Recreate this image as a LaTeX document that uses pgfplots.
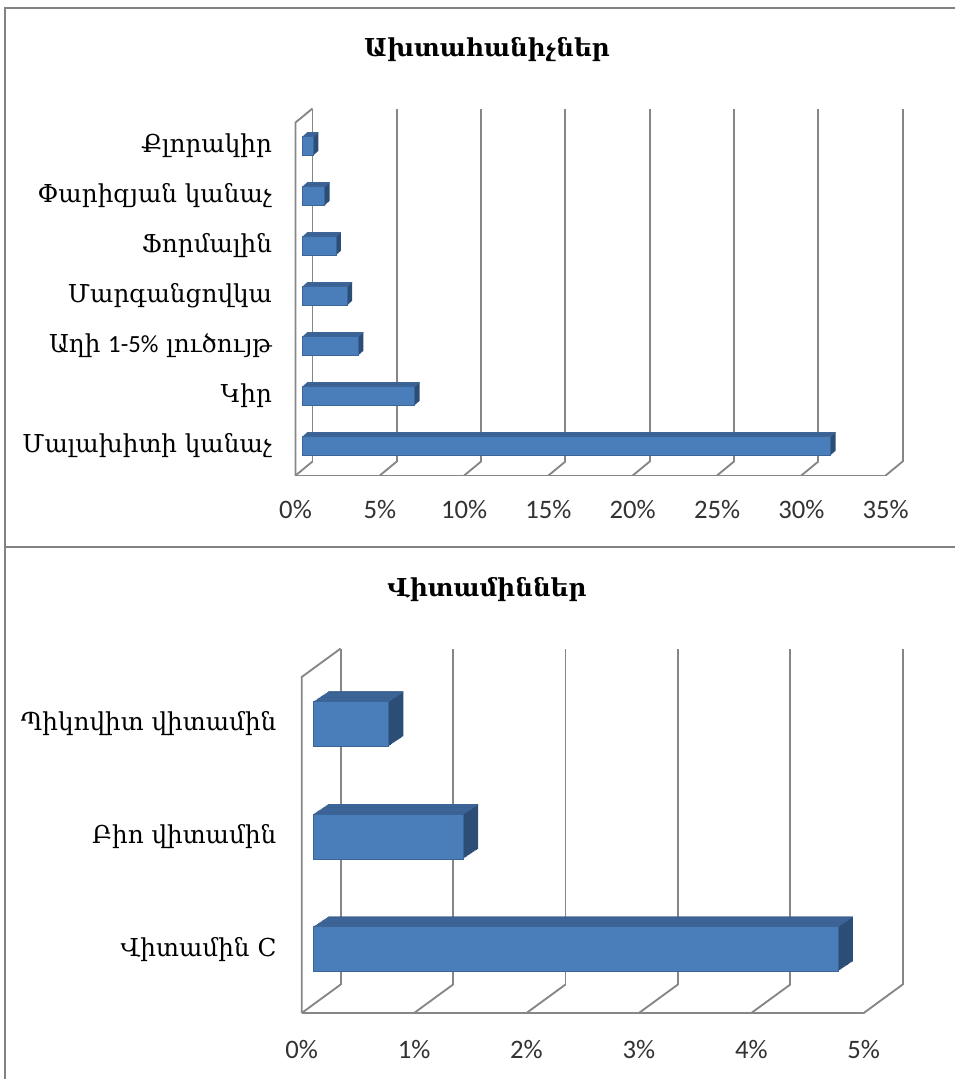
\documentclass[border=0pt]{standalone}
\usepackage{pgfplots}
\pgfplotsset{compat=1.18}
\usepackage{pgfplotstable}
\usepackage{fontspec}
\setmainfont{Carlito}
\newfontfamily\armfont{DejaVu Serif}
\newfontfamily\latfont{Carlito}

\definecolor{barfront}{RGB}{74,126,187}
\definecolor{bartop}{RGB}{60,100,150}
\definecolor{barside}{RGB}{44,77,118}
\definecolor{wall}{RGB}{134,134,134}
\definecolor{framegray}{RGB}{130,130,130}
\definecolor{ticktext}{RGB}{50,50,50}

% Disinfectants: share of respondents, %
\pgfplotstableread{
idx value
0 31.333
1 6.667
2 3.333
3 2.667
4 2.000
5 1.333
6 0.667
}\disinf

% Vitamins: share of respondents, %
\pgfplotstableread{
idx value
0 4.667
1 1.333
2 0.667
}\vitamins

\tikzset{wallline/.style={draw=wall, line width=1.4pt}}

\begin{document}
\begin{tikzpicture}
\path[use as bounding box] (0pt,0pt) rectangle (716.25pt,-809.25pt);
\draw[framegray, line width=2.2pt] (3.75pt,-809.25pt) -- (3.75pt,-6pt) -- (716.25pt,-6pt);
\draw[framegray, line width=2.2pt] (3.75pt,-410.25pt) -- (716.25pt,-410.25pt);

\node[font=\armfont\bfseries\fontsize{18.5}{21}\selectfont] at (365.25pt,-37.5pt) {Ախտահանիչներ};
\node[font=\armfont\bfseries\fontsize{18.5}{21}\selectfont] at (365.25pt,-442.5pt) {Վիտամիններ};

% ---------- disinfectants ----------
\begin{axis}[
  at={(226.65pt,-352.5pt)}, anchor=south west,
  scale only axis, width=442.6pt, height=264.75pt,
  xmin=0, xmax=35, ymin=-0.48, ymax=6.58,
  clip=false,
  axis line style={draw=none},
  major tick length=0pt,
  xtick={0,5,...,35},
  xticklabels={0\%,5\%,10\%,15\%,20\%,25\%,30\%,35\%},
  ytick={0,...,6},
  yticklabels={Մալախիտի կանաչ,Կիր,Աղի {\latfont 1-5\%} լուծույթ,Մարգանցովկա,Ֆորմալին,Փարիզյան կանաչ,Քլորակիր},
  xticklabel style={font=\latfont\fontsize{20}{23}\selectfont, text=ticktext, anchor=center, xshift=-5pt, yshift=-30pt},
  yticklabel style={font=\armfont\fontsize{18.5}{21}\selectfont, text=black, anchor=east, inner sep=0pt, xshift=-22.5pt},
]
% back wall and floor
\pgfplotsinvokeforeach{0,5,...,35}{
  \draw[wallline] ([shift={(7.725pt,6.375pt)}]axis cs:#1,-0.48) -- ([shift={(7.725pt,6.375pt)}]axis cs:#1,6.58);
  \draw[wallline] ([shift={(-5.025pt,-4.125pt)}]axis cs:#1,-0.48) -- ([shift={(7.725pt,6.375pt)}]axis cs:#1,-0.48);
}
\draw[wallline] ([shift={(-5.025pt,-4.125pt)}]axis cs:0,-0.48) -- ([shift={(-5.025pt,-4.125pt)}]axis cs:0,6.58) -- ([shift={(7.725pt,6.375pt)}]axis cs:0,6.58);
\draw[wallline] ([shift={(-5.025pt,-4.125pt)}]axis cs:0,-0.48) -- ([shift={(-5.025pt,-4.125pt)}]axis cs:35,-0.48);
% bar depth: side faces, then top faces, then front faces
\pgfplotsinvokeforeach{1,...,6}{
  \addplot[xbar, bar width=14.25pt, bar shift=0pt, fill=barside, draw=none, xshift=#1*0.625pt, yshift=#1*0.5625pt] table[x=value,y=idx]{\disinf};
}
\pgfplotsinvokeforeach{1,...,6}{
  \addplot[xbar, bar width=0.8pt, bar shift=6.725pt, fill=bartop, draw=none, xshift=#1*0.625pt, yshift=#1*0.5625pt] table[x=value,y=idx]{\disinf};
}
\addplot[xbar, bar width=14.25pt, bar shift=0pt, fill=barfront, draw=barfront!80!black, line width=0.4pt] table[x=value,y=idx]{\disinf};
\end{axis}

% ---------- vitamins ----------
\begin{axis}[
  at={(234.975pt,-753.375pt)}, anchor=south west,
  scale only axis, width=421.5pt, height=252pt,
  xmin=0, xmax=5, ymin=-0.493, ymax=2.493,
  clip=false,
  axis line style={draw=none},
  major tick length=0pt,
  xtick={0,1,...,5},
  xticklabels={0\%,1\%,2\%,3\%,4\%,5\%},
  ytick={0,1,2},
  yticklabels={Վիտամին C,Բիո վիտամին,Պիկովիտ վիտամին},
  xticklabel style={font=\latfont\fontsize{20}{23}\selectfont, text=ticktext, anchor=center, xshift=-8.7pt, yshift=-34.1pt},
  yticklabel style={font=\armfont\fontsize{18.5}{21}\selectfont, text=black, anchor=east, inner sep=0pt, xshift=-27.5pt},
]
\pgfplotsinvokeforeach{0,...,5}{
  \draw[wallline] ([shift={(20.55pt,15pt)}]axis cs:#1,-0.493) -- ([shift={(20.55pt,15pt)}]axis cs:#1,2.493);
  \draw[wallline] ([shift={(-8.7pt,-6.375pt)}]axis cs:#1,-0.493) -- ([shift={(20.55pt,15pt)}]axis cs:#1,-0.493);
}
\draw[wallline] ([shift={(-8.7pt,-6.375pt)}]axis cs:0,-0.493) -- ([shift={(-8.7pt,-6.375pt)}]axis cs:0,2.493) -- ([shift={(20.55pt,15pt)}]axis cs:0,2.493);
\draw[wallline] ([shift={(-8.7pt,-6.375pt)}]axis cs:0,-0.493) -- ([shift={(-8.7pt,-6.375pt)}]axis cs:5,-0.493);
\pgfplotsinvokeforeach{1,...,12}{
  \addplot[xbar, bar width=33.75pt, bar shift=0pt, fill=barside, draw=none, xshift=#1*0.9375pt, yshift=#1*0.625pt] table[x=value,y=idx]{\vitamins};
}
\pgfplotsinvokeforeach{1,...,12}{
  \addplot[xbar, bar width=0.85pt, bar shift=16.45pt, fill=bartop, draw=none, xshift=#1*0.9375pt, yshift=#1*0.625pt] table[x=value,y=idx]{\vitamins};
}
\addplot[xbar, bar width=33.75pt, bar shift=0pt, fill=barfront, draw=barfront!80!black, line width=0.4pt] table[x=value,y=idx]{\vitamins};
\end{axis}
\end{tikzpicture}
\end{document}
